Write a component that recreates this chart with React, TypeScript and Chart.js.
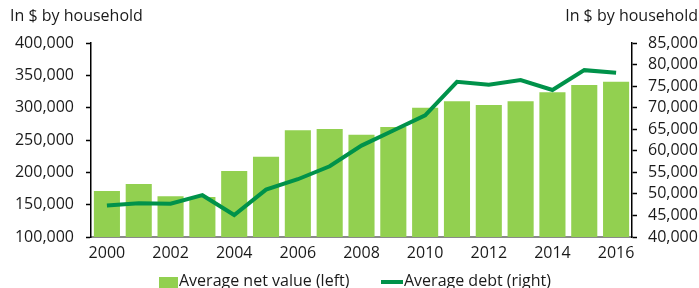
import React, { useEffect, useRef } from "react";
import { Chart, registerables } from "chart.js";

Chart.register(...registerables);

const years = ["2000","2001","2002","2003","2004","2005","2006","2007","2008","2009","2010","2011","2012","2013","2014","2015","2016"];
const netValue = [171000,182000,163000,162000,202000,224000,265000,267000,258000,270000,300000,310000,304000,310000,324000,335000,340000];
const avgDebt = [47300,47800,47700,49700,45100,51000,53400,56400,61200,64700,68200,76000,75300,76400,74100,78700,78100];
const leftTitle = "In $ by household";
const rightTitle = "In $ by household";
const netLabel = "Average net value (left)";
const debtLabel = "Average debt (right)";

const BAR = "#92D050";
const LINE = "#00924A";
const FONT = "'Open Sans', sans-serif";
const TXT = "#1a1a1a";

export default function App() {
  const ref = useRef<HTMLCanvasElement | null>(null);
  useEffect(() => {
    if (!ref.current) return;
    const fmt = (v: any) => Number(v).toLocaleString("en-US");
    const chart = new Chart(ref.current, {
      type: "bar",
      data: {
        labels: years,
        datasets: [
          {
            type: "bar",
            label: netLabel,
            data: netValue,
            backgroundColor: BAR,
            yAxisID: "y",
            barPercentage: 0.82,
            categoryPercentage: 1,
            order: 2,
          },
          {
            type: "line",
            label: debtLabel,
            data: avgDebt,
            borderColor: LINE,
            backgroundColor: LINE,
            borderWidth: 4,
            pointRadius: 0,
            tension: 0,
            yAxisID: "y1",
            order: 1,
          } as any,
        ],
      },
      options: {
        animation: false,
        responsive: true,
        maintainAspectRatio: false,
        layout: { padding: { top: 43, bottom: 21, left: 0, right: 0 } },
        plugins: { legend: { display: false }, tooltip: { enabled: false } },
        scales: {
          x: {
            grid: { display: false, drawTicks: false },
            border: { display: true, color: "#8a8a8a", width: 2 },
            ticks: {
              autoSkip: false,
              maxRotation: 0,
              padding: 7,
              color: TXT,
              font: { family: FONT, size: 16 },
              callback: (_v: any, i: number) => (i % 2 === 0 ? years[i] : ""),
            },
            afterFit: (s: any) => { s.height = 30; },
          },
          y: {
            position: "left",
            min: 100000,
            max: 400000,
            grid: { drawOnChartArea: false, drawTicks: true, tickLength: 5, color: "#000", tickWidth: 1.5 },
            border: { display: true, color: "#000", width: 1.5 },
            ticks: { stepSize: 50000, autoSkip: false, padding: 12, color: TXT, font: { family: FONT, size: 16 }, callback: fmt },
            afterFit: (s: any) => { s.width = 91; },
          },
          y1: {
            position: "right",
            min: 40000,
            max: 85000,
            grid: { drawOnChartArea: false, drawTicks: true, tickLength: 5, color: "#000", tickWidth: 1.5 },
            border: { display: true, color: "#000", width: 1.5 },
            ticks: { stepSize: 5000, autoSkip: false, padding: 11, color: TXT, font: { family: FONT, size: 16 }, callback: fmt },
            afterFit: (s: any) => { s.width = 67; },
          },
        },
      },
    });
    return () => chart.destroy();
  }, []);

  const text: React.CSSProperties = { position: "absolute", fontFamily: FONT, fontSize: 16, color: TXT, whiteSpace: "nowrap", lineHeight: "22px" };
  return (
    <div style={{ position: "absolute", left: 0, top: 0, width: 699, height: 288, overflow: "hidden", background: "#fff" }}>
      <div style={{ position: "absolute", left: 0, top: 0, width: 699, height: 288 }}>
        <canvas ref={ref} />
      </div>
      <div style={{ ...text, left: 10, top: 4 }}>{leftTitle}</div>
      <div style={{ ...text, right: 1, top: 4 }}>{rightTitle}</div>
      <div style={{ position: "absolute", left: 159, top: 277, width: 19, height: 14, background: BAR }} />
      <div style={{ ...text, left: 179, top: 269 }}>{netLabel}</div>
      <div style={{ position: "absolute", left: 381, top: 280, width: 22, height: 4, background: LINE }} />
      <div style={{ ...text, left: 404, top: 269 }}>{debtLabel}</div>
    </div>
  );
}
